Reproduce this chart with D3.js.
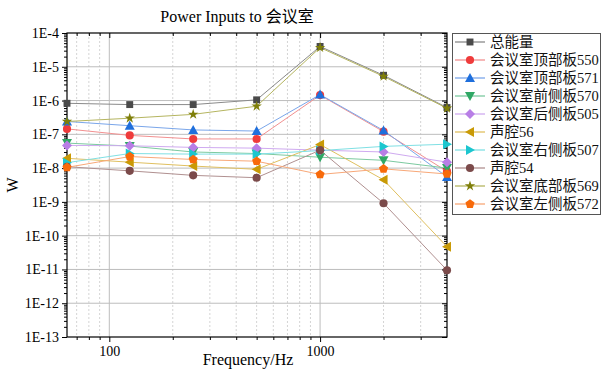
<!DOCTYPE html>
<html>
<head>
<meta charset="utf-8">
<script src="https://cdn.jsdelivr.net/npm/d3@7"></script>
<style>
  body { margin: 0; background: #fff; }
  text { font-family: "Liberation Serif", "Noto Sans CJK SC", serif; }
</style>
</head>
<body>
<div id="chart"></div>
<script>
// frequencies (Hz)
var freqs = [63, 125, 250, 500, 1000, 2000, 4000];

// series values (W)
var total  = [8.3e-7, 7.6e-7, 7.6e-7, 1.05e-6, 4.0e-5, 5.6e-6, 6.2e-7];
var p550   = [1.45e-7, 9.3e-8, 7.3e-8, 7.3e-8, 1.45e-6, 1.2e-7, 8e-9];
var p571   = [2.4e-7, 1.8e-7, 1.35e-7, 1.25e-7, 1.5e-6, 1.3e-7, 5.5e-9];
var p570   = [5.5e-8, 4.5e-8, 3.0e-8, 2.7e-8, 2.1e-8, 1.7e-8, 1.0e-8];
var p505   = [4.7e-8, 4.6e-8, 4.1e-8, 3.9e-8, 3.4e-8, 3.0e-8, 1.5e-8];
var p56    = [1.95e-8, 1.5e-8, 1.15e-8, 9.2e-9, 5.0e-8, 4.5e-9, 4.7e-11];
var p507   = [1.45e-8, 2.7e-8, 2.6e-8, 2.6e-8, 3.3e-8, 4.4e-8, 5.1e-8];
var p54    = [1.1e-8, 8.3e-9, 6.1e-9, 5.2e-9, 3.4e-8, 9.1e-10, 9.5e-12];
var p569   = [2.4e-7, 3.0e-7, 3.9e-7, 6.8e-7, 3.7e-5, 5.2e-6, 5.9e-7];
var p572   = [1.05e-8, 2.2e-8, 1.8e-8, 1.6e-8, 6.5e-9, 9.5e-9, 6.7e-9];

var names = ["总能量", "会议室顶部板550", "会议室顶部板571", "会议室前侧板570", "会议室后侧板505",
             "声腔56", "会议室右侧板507", "声腔54", "会议室底部板569", "会议室左侧板572"];
var values = [total, p550, p571, p570, p505, p56, p507, p54, p569, p572];

// y tick labels
var yTickVals = [1e-4, 1e-5, 1e-6, 1e-7, 1e-8, 1e-9, 1e-10, 1e-11, 1e-12, 1e-13];
var yTickLabels = ["1E-4", "1E-5", "1E-6", "1E-7", "1E-8", "1E-9", "1E-10", "1E-11", "1E-12", "1E-13"];
var xTickVals = [100, 1000];

var colors = ["#4a4a4a", "#ef3b3b", "#1f6fdc", "#2fa865", "#b87ee6", "#c99a06", "#1cc6cf", "#7b4a4a", "#7f7f0a", "#f86a0a"];
var lineColors = ["#8a8a8a", "#f29090", "#7aa6ea", "#7ccaa0", "#cfaaf0", "#e0c060", "#80e0e4", "#b09090", "#b5b560", "#f8a878"];
var shapes = ["square", "circle", "up", "down", "diamond", "left", "right", "circle", "star", "pentagon"];

(function() {
var W = 602, H = 369;
var pl = 67, pr = 447, pt = 33, pb = 337;

var svg = d3.select("#chart").append("svg")
  .attr("width", W).attr("height", H);

var x = d3.scaleLog().domain([63, 4000]).range([pl, pr]);
var y = d3.scaleLog().domain([1e-13, 1e-4]).range([pb, pt]);

// minor x grid (dotted)
var xMinor = [];
[10, 100, 1000].forEach(function(d) {
  for (var k = 2; k <= 9; k++) {
    var v = d * k;
    if (v > 63 && v < 4000 && v !== 100 && v !== 1000) xMinor.push(v);
  }
});
svg.append("g").selectAll("line").data(xMinor).enter().append("line")
  .attr("x1", function(d) { return x(d); }).attr("x2", function(d) { return x(d); })
  .attr("y1", pt).attr("y2", pb)
  .attr("stroke", "#d4d4d4").attr("stroke-dasharray", "2,2").attr("stroke-width", 1);

// major grid
svg.append("g").selectAll("line").data(xTickVals).enter().append("line")
  .attr("x1", function(d) { return x(d); }).attr("x2", function(d) { return x(d); })
  .attr("y1", pt).attr("y2", pb)
  .attr("stroke", "#bdbdbd").attr("stroke-width", 1);
svg.append("g").selectAll("line").data(yTickVals.slice(1, -1)).enter().append("line")
  .attr("x1", pl).attr("x2", pr)
  .attr("y1", function(d) { return y(d); }).attr("y2", function(d) { return y(d); })
  .attr("stroke", "#bdbdbd").attr("stroke-width", 1);

// minor y ticks
var yMinor = [];
for (var e = -13; e < -4; e++) {
  for (var k = 2; k <= 9; k++) yMinor.push(k * Math.pow(10, e));
}

// axes
var fmtY = function(d) { return yTickLabels[yTickVals.indexOf(d)] || ""; };
var gl = svg.append("g").attr("transform", "translate(" + pl + ",0)")
  .call(d3.axisLeft(y).tickValues(yTickVals).tickFormat(fmtY).tickSize(5).tickSizeOuter(0));
svg.append("g").attr("transform", "translate(" + pl + ",0)")
  .call(d3.axisLeft(y).tickValues(yMinor).tickFormat("").tickSize(3).tickSizeOuter(0));
svg.append("g").attr("transform", "translate(" + pr + ",0)")
  .call(d3.axisLeft(y).tickValues(yTickVals).tickFormat("").tickSize(5).tickSizeOuter(0));
svg.append("g").attr("transform", "translate(" + pr + ",0)")
  .call(d3.axisLeft(y).tickValues(yMinor).tickFormat("").tickSize(3).tickSizeOuter(0));

var gb = svg.append("g").attr("transform", "translate(0," + pb + ")")
  .call(d3.axisBottom(x).tickValues(xTickVals).tickFormat(d3.format("d")).tickSize(5).tickSizeOuter(0));
svg.append("g").attr("transform", "translate(0," + pb + ")")
  .call(d3.axisBottom(x).tickValues(xMinor).tickFormat("").tickSize(3).tickSizeOuter(0));
svg.append("g").attr("transform", "translate(0," + pt + ")")
  .call(d3.axisBottom(x).tickValues(xTickVals).tickFormat("").tickSize(5).tickSizeOuter(0));
svg.append("g").attr("transform", "translate(0," + pt + ")")
  .call(d3.axisBottom(x).tickValues(xMinor).tickFormat("").tickSize(3).tickSizeOuter(0));

svg.selectAll(".domain").remove();
svg.selectAll(".tick line").attr("stroke", "#000");
gl.selectAll("text").attr("font-size", 14).attr("fill", "#000").attr("x", -8);
gb.selectAll("text").attr("font-size", 14).attr("fill", "#000").attr("y", 9);

// frame
svg.append("rect").attr("x", pl).attr("y", pt)
  .attr("width", pr - pl).attr("height", pb - pt)
  .attr("fill", "none").attr("stroke", "#000").attr("stroke-width", 1.2);

// marker paths
function markerPath(shape) {
  if (shape === "square") return d3.symbol(d3.symbolSquare, 48)();
  if (shape === "circle") return d3.symbol(d3.symbolCircle, 52)();
  if (shape === "star") return d3.symbol(d3.symbolStar, 34)();
  if (shape === "diamond") return "M0,-5L5,0L0,5L-5,0Z";
  if (shape === "up") return "M0,-5L5,4L-5,4Z";
  if (shape === "down") return "M0,5L5,-4L-5,-4Z";
  if (shape === "left") return "M-5,0L4,-5L4,5Z";
  if (shape === "right") return "M5,0L-4,-5L-4,5Z";
  if (shape === "pentagon") {
    var pts = d3.range(5).map(function(i) {
      var a = -Math.PI / 2 + i * 2 * Math.PI / 5;
      return [4.8 * Math.cos(a), 4.8 * Math.sin(a)];
    });
    return "M" + pts.join("L") + "Z";
  }
}

var line = d3.line()
  .x(function(d, i) { return x(freqs[i]); })
  .y(function(d) { return y(d); });

var plot = svg.append("g");
values.forEach(function(vals, si) {
  plot.append("path").datum(vals)
    .attr("d", line)
    .attr("fill", "none")
    .attr("stroke", lineColors[si])
    .attr("stroke-width", 1);
});
values.forEach(function(vals, si) {
  plot.selectAll(".m" + si).data(vals).enter().append("path")
    .attr("transform", function(d, i) { return "translate(" + x(freqs[i]) + "," + y(d) + ")"; })
    .attr("d", markerPath(shapes[si]))
    .attr("fill", colors[si]);
});

// title and axis labels
svg.append("text").attr("x", 237).attr("y", 22).attr("text-anchor", "middle")
  .attr("font-size", 16).text("Power Inputs to 会议室");
svg.append("text").attr("x", 248).attr("y", 365).attr("text-anchor", "middle")
  .attr("font-size", 16).text("Frequency/Hz");
svg.append("text").attr("transform", "translate(18,185) rotate(-90)")
  .attr("text-anchor", "middle").attr("font-size", 16).text("W");

// legend
var lg = svg.append("g");
lg.append("rect").attr("x", 452.5).attr("y", 33.5).attr("width", 148).attr("height", 181)
  .attr("fill", "#fff").attr("stroke", "#555").attr("stroke-width", 1);
names.forEach(function(n, i) {
  var ly = 42 + i * 18;
  lg.append("line").attr("x1", 455).attr("x2", 485).attr("y1", ly).attr("y2", ly)
    .attr("stroke", lineColors[i]).attr("stroke-width", 1.3);
  lg.append("path").attr("transform", "translate(470," + ly + ")")
    .attr("d", markerPath(shapes[i])).attr("fill", colors[i]);
  lg.append("text").attr("x", 490).attr("y", ly + 5).attr("font-size", 14.5)
    .attr("fill", "#111").text(n);
});
})();
</script>
</body>
</html>
